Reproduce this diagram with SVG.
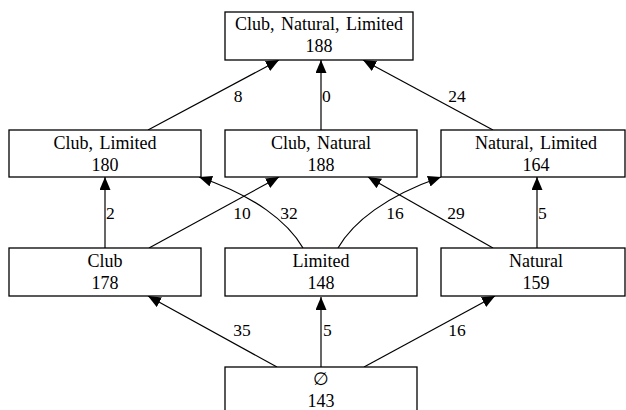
<svg xmlns="http://www.w3.org/2000/svg" width="626" height="410" viewBox="0 0 626 410">
<style>
.box{fill:#fff;stroke:#000;stroke-width:1.3}
.t{font-family:'Liberation Serif','Times New Roman',serif;font-size:17.5px;fill:#000;text-anchor:middle}
.n{font-size:18px;word-spacing:2px}
.e{fill:none;stroke:#000;stroke-width:1.2;marker-end:url(#ah)}
.ls{text-anchor:start}
</style>
<defs>
<marker id="ah" markerUnits="userSpaceOnUse" markerWidth="14" markerHeight="12" refX="13" refY="5.5" orient="auto">
<path d="M0,0 L13,5.5 L0,11 z" fill="#000"/>
</marker>
</defs>
<rect width="626" height="410" fill="#fff"/>
<g id="connectors">
<path class="e" d="M277,367 L148,296"/>
<path class="e" d="M321,367 L321,297"/>
<path class="e" d="M364,367 L495,296"/>
<path class="e" d="M105,248 L105,177"/>
<path class="e" d="M149,248 L279,177"/>
<path class="e" d="M303,248 C288,222 255,196 199,177"/>
<path class="e" d="M338,248 C353,222 386,196 441,177"/>
<path class="e" d="M493,248 L368,177"/>
<path class="e" d="M537,248 L537,177"/>
<path class="e" d="M148,130 L279,60"/>
<path class="e" d="M321,130 L321,60"/>
<path class="e" d="M493,130 L363,60"/>
<g class="t">
<text x="242" y="336">35</text>
<text class="ls" x="323" y="336">5</text>
<text x="457" y="336">16</text>
<text class="ls" x="106" y="219">2</text>
<text x="242" y="219">10</text>
<text x="289" y="219">32</text>
<text x="395" y="219">16</text>
<text x="456" y="219">29</text>
<text class="ls" x="538" y="219">5</text>
<text x="238" y="102">8</text>
<text class="ls" x="322" y="102">0</text>
<text x="457" y="102">24</text>
</g>
</g>
<g id="n-cnl" class="t n"><rect class="box" x="225" y="12" width="188" height="48"/><text x="319" y="30">Club, Natural, Limited</text><text x="319" y="52">188</text></g>
<g id="n-cl" class="t n"><rect class="box" x="9" y="130" width="192" height="47"/><text x="105" y="149">Club, Limited</text><text x="105" y="171">180</text></g>
<g id="n-cn" class="t n"><rect class="box" x="225" y="130" width="192" height="47"/><text x="321" y="149">Club, Natural</text><text x="321" y="171">188</text></g>
<g id="n-nl" class="t n"><rect class="box" x="441" y="130" width="184" height="47"/><text x="536" y="149">Natural, Limited</text><text x="536" y="171">164</text></g>
<g id="n-c" class="t n"><rect class="box" x="9" y="248" width="192" height="48"/><text x="105" y="267">Club</text><text x="105" y="289">178</text></g>
<g id="n-l" class="t n"><rect class="box" x="225" y="248" width="192" height="48"/><text x="321" y="267">Limited</text><text x="321" y="289">148</text></g>
<g id="n-n" class="t n"><rect class="box" x="441" y="248" width="184" height="48"/><text x="536" y="267">Natural</text><text x="536" y="289">159</text></g>
<g id="n-empty" class="t n"><rect class="box" x="225" y="367" width="192" height="48"/><text x="321" y="385">∅</text><text x="321" y="407">143</text></g>
</svg>
